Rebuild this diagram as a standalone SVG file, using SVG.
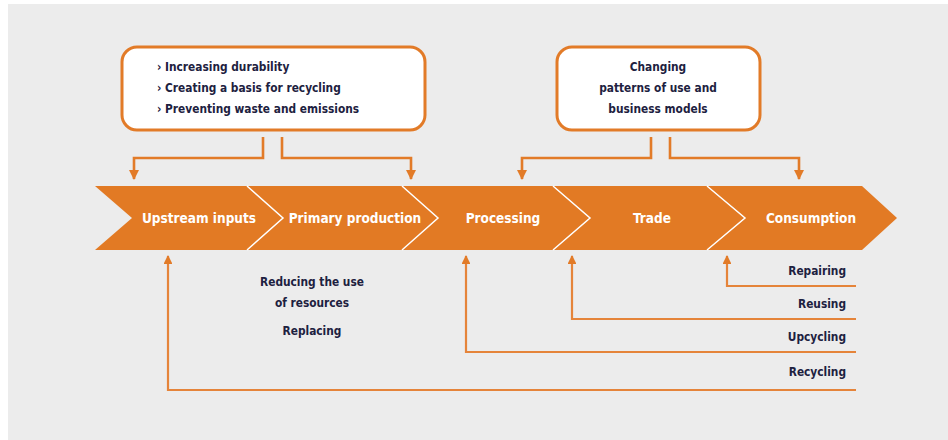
<svg xmlns="http://www.w3.org/2000/svg" width="948" height="440" viewBox="0 0 948 440">
<defs>
<style>
.bg{fill:#ececec}
.box{fill:#ffffff;stroke:#e27b28;stroke-width:3}
.seg{fill:#e27a24}
.sep{fill:none;stroke:#ffffff;stroke-width:1.5}
.con{fill:none;stroke:#e27b28;stroke-width:2.6}
.ret{fill:none;stroke:#e5843a;stroke-width:2.2}
.t{font-family:"Liberation Sans Narrow","DejaVu Sans Condensed","Roboto",sans-serif;font-weight:bold;font-size:11.8px;fill:#1d2140}
.w{font-family:"Liberation Sans Narrow","DejaVu Sans Condensed","Roboto",sans-serif;font-weight:bold;font-size:13.5px;fill:#ffffff;text-anchor:middle}
</style>
<marker id="ah" viewBox="0 0 10 10" refX="9" refY="5" markerWidth="4" markerHeight="4" orient="auto" markerUnits="strokeWidth">
<path d="M0,0 L10,5 L0,10 z" fill="#e27b28"/>
</marker>
</defs>
<rect x="8" y="4" width="940" height="436" class="bg"/>

<g id="box-design">
<rect x="122" y="47" width="303" height="83" rx="15" class="box"/>
<text class="t" x="157" y="71">› Increasing durability</text>
<text class="t" x="157" y="92">› Creating a basis for recycling</text>
<text class="t" x="157" y="113">› Preventing waste and emissions</text>
</g>

<g id="box-patterns">
<rect x="557" y="47" width="203" height="83" rx="15" class="box"/>
<text class="t" x="658" y="71" text-anchor="middle">Changing</text>
<text class="t" x="658" y="92" text-anchor="middle">patterns of use and</text>
<text class="t" x="658" y="113" text-anchor="middle">business models</text>
</g>

<g id="stage-upstream">
<polygon class="seg" points="95,186 247,186 283,218 247,250 95,250 132,218"/>
<text class="w" x="199" y="222.5">Upstream inputs</text>
</g>
<g id="stage-primary">
<polygon class="seg" points="247,186 402,186 438,218 402,250 247,250 283,218"/>
<text class="w" x="355" y="222.5">Primary production</text>
</g>
<g id="stage-processing">
<polygon class="seg" points="402,186 553,186 590,218 553,250 402,250 438,218"/>
<text class="w" x="503" y="222.5">Processing</text>
</g>
<g id="stage-trade">
<polygon class="seg" points="553,186 707,186 745,218 707,250 553,250 590,218"/>
<text class="w" x="652" y="222.5">Trade</text>
</g>
<g id="stage-consumption">
<polygon class="seg" points="707,186 862,186 897,218 862,250 707,250 745,218"/>
<text class="w" x="811" y="222.5">Consumption</text>
</g>
<g id="separators">
<polyline class="sep" points="247,186 283,218 247,250"/>
<polyline class="sep" points="402,186 438,218 402,250"/>
<polyline class="sep" points="553,186 590,218 553,250"/>
<polyline class="sep" points="707,186 745,218 707,250"/>
</g>

<g id="labels">
<text class="t" x="312" y="286" text-anchor="middle">Reducing the use</text>
<text class="t" x="312" y="307" text-anchor="middle">of resources</text>
<text class="t" x="312" y="335" text-anchor="middle">Replacing</text>
<text class="t" x="846" y="275" text-anchor="end">Repairing</text>
<text class="t" x="846" y="308" text-anchor="end">Reusing</text>
<text class="t" x="846" y="341" text-anchor="end">Upcycling</text>
<text class="t" x="846" y="376" text-anchor="end">Recycling</text>
</g>

<g id="connectors">
<polyline class="con" points="263,137 263,158 134,158 134,179" marker-end="url(#ah)"/>
<polyline class="con" points="282,137 282,158 411,158 411,179" marker-end="url(#ah)"/>
<polyline class="con" points="651,137 651,158 522,158 522,179" marker-end="url(#ah)"/>
<polyline class="con" points="670,137 670,158 799,158 799,179" marker-end="url(#ah)"/>
<polyline class="ret" points="856,286 727,286 727,256" marker-end="url(#ah)"/>
<polyline class="ret" points="856,319 572,319 572,256" marker-end="url(#ah)"/>
<polyline class="ret" points="856,352 466,352 466,256" marker-end="url(#ah)"/>
<polyline class="ret" points="856,390 168,390 168,256" marker-end="url(#ah)"/>
</g>
</svg>
